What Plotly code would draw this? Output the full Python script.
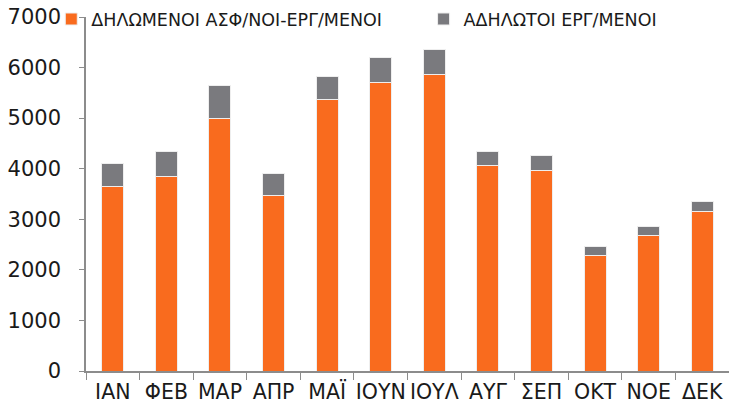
import plotly.graph_objects as go

# monthly figures
months = ["ΙΑΝ", "ΦΕΒ", "ΜΑΡ", "ΑΠΡ", "ΜΑΪ", "ΙΟΥΝ", "ΙΟΥΛ", "ΑΥΓ", "ΣΕΠ", "ΟΚΤ", "ΝΟΕ", "ΔΕΚ"]
declared = [3650, 3850, 4990, 3480, 5360, 5700, 5860, 4070, 3960, 2290, 2670, 3150]
undeclared = [450, 500, 650, 420, 470, 500, 490, 280, 300, 170, 180, 200]

font_name = "DejaVu Sans, sans-serif"

fig = go.Figure()
fig.add_trace(go.Bar(x=months, y=declared, name="ΔΗΛΩΜΕΝΟΙ ΑΣΦ/ΝΟΙ-ΕΡΓ/ΜΕΝΟΙ",
                     legend="legend", showlegend=True,
                     marker=dict(color="#F96B1E", line=dict(color="#eeeeee", width=1))))
fig.add_trace(go.Bar(x=months, y=undeclared, name="ΑΔΗΛΩΤΟΙ ΕΡΓ/ΜΕΝΟΙ",
                     legend="legend2", showlegend=True,
                     marker=dict(color="#7A7A7E", line=dict(color="#eeeeee", width=1))))

leg = dict(orientation="h", y=0.994, xanchor="left", yanchor="middle",
           font=dict(size=17.5), bgcolor="rgba(0,0,0,0)", itemwidth=30, visible=True)

fig.update_layout(
    barmode="stack",
    bargap=0.59,
    showlegend=True,
    width=729, height=409,
    margin=dict(l=86, r=0, t=17, b=38),
    plot_bgcolor="white", paper_bgcolor="white",
    font=dict(family=font_name, color="#1a1a1a"),
    legend=dict(leg, x=-0.054),
    legend2=dict(leg, x=0.525),
)
fig.update_xaxes(showline=True, linecolor="#8c8c8c", linewidth=1.5,
                 ticks="outside", tickson="boundaries", ticklen=7, tickcolor="#8c8c8c",
                 tickangle=0, tickfont=dict(size=20.5), ticklabelstandoff=2, showgrid=False)
fig.update_yaxes(range=[0, 7000], dtick=1000, showline=True, linecolor="#8c8c8c", linewidth=1.5,
                 ticks="outside", ticklen=5, tickcolor="#8c8c8c",
                 showgrid=False, zeroline=False, tickfont=dict(size=21), ticklabelstandoff=14)

fig.write_html("out.html", config={"displayModeBar": False},
               post_script="document.body.style.margin='0';")
